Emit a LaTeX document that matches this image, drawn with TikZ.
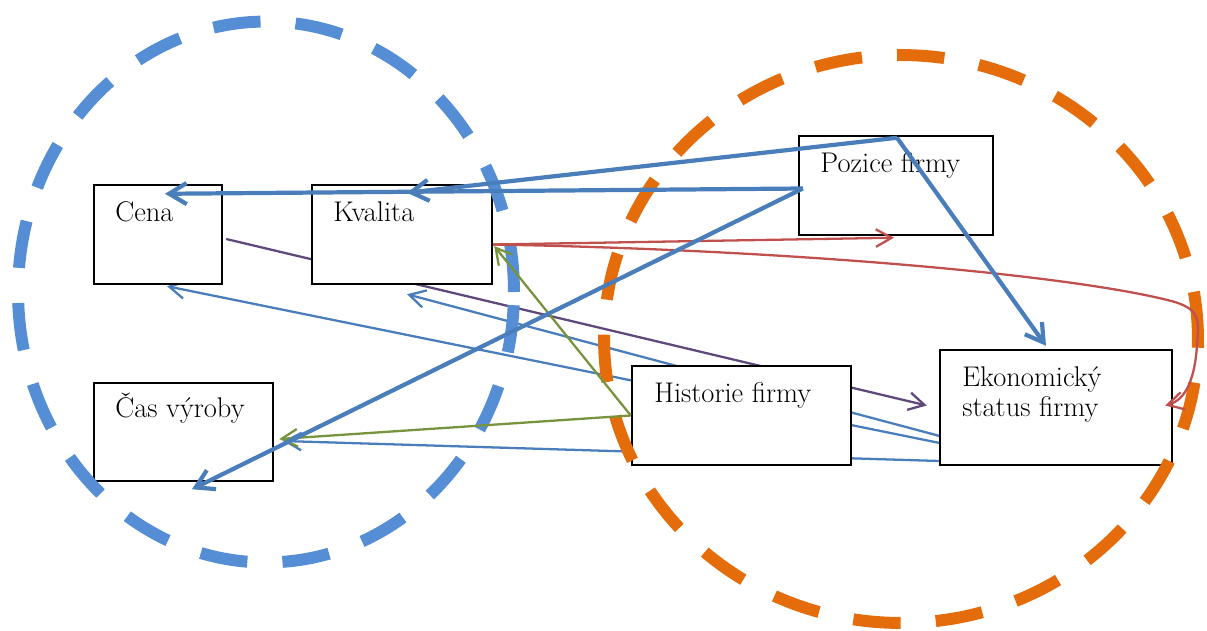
\documentclass[tikz,border=0pt]{standalone}
\usepackage{fontspec}
\usetikzlibrary{arrows.meta,fit,calc}
\pgfdeclarelayer{back}
\pgfdeclarelayer{rings}
\pgfdeclarelayer{front}
\pgfsetlayers{back,main,rings,front}
\definecolor{lineblue}{RGB}{74,126,187}
\definecolor{ringblue}{RGB}{85,142,213}
\definecolor{ringorange}{RGB}{228,108,10}
\definecolor{linegreen}{RGB}{119,147,60}
\definecolor{linepurple}{RGB}{95,73,122}
\definecolor{linered}{RGB}{192,80,77}
\begin{document}
\begin{tikzpicture}[x=0.02cm,y=-0.02cm,
  box/.style={draw=black, fill=white, line width=1.4pt, inner sep=0pt},
  lbl/.style={font=\fontsize{16.2}{19}\selectfont, inner sep=0pt, anchor=base west},
  ring/.style={line width=6.8pt, dash pattern=on 27pt off 20pt},
  heavy/.style={draw=lineblue, line width=2.4pt, -{Straight Barb[length=10pt,width=12pt]}},
  light/.style={line width=1.3pt, -{Straight Barb[length=9pt,width=10pt]}}]
\useasboundingbox (0,0) rectangle (1207,630);

% boxes
\node[box, fit={(94,185) (222,284)}] (cena) {};
\node[box, fit={(312,185) (492,284)}] (kval) {};
\node[box, fit={(799,136) (993,235)}] (poz) {};
\node[box, fit={(94,383) (273,481)}] (cas) {};
\node[box, fit={(632,366) (851,465)}] (hist) {};
\node[box, fit={(940,350) (1172,465)}] (eko) {};

% box texts
\node[lbl] (tcena) at (115,221) {Cena};
\node[lbl] (tkval) at (333,221) {Kvalita};
\node[lbl] (tpoz) at (820,172) {Pozice firmy};
\node[lbl] (tcas) at (115,417) {Čas výroby};
\node[lbl] (thist) at (654,402) {Historie firmy};
\node[lbl] (teko1) at (962,386) {Ekonomický};
\node[lbl] (teko2) at (962,416) {status firmy};

% connector end points
\coordinate (pozTop) at ($(poz.north)+(1,3)$);
\coordinate (pozW) at ($(poz.west)+(5,3)$);
\coordinate (pozS) at ($(poz.south)+(-2,1.5)$);
\coordinate (kvalN) at ($(kval.north)+(5,9)$);
\coordinate (kvalS) at ($(kval.south)+(5,9)$);
\coordinate (kvalE) at ($(kval.east)+(1,11.5)$);
\coordinate (kvalR) at ($(kval.east)+(0,10)$);
\coordinate (cenaN) at ($(cena.north)+(7,10)$);
\coordinate (cenaS) at ($(cena.south)+(9,1)$);
\coordinate (cenaE) at ($(cena.east)+(3,4.5)$);
\coordinate (casS) at ($(cas.south)+(8.5,7)$);
\coordinate (casE) at ($(cas.east)+(9,9)$);
\coordinate (casG) at ($(cas.east)+(5,7)$);
\coordinate (ekoN) at ($(eko.north)+(-10,-3)$);
\coordinate (ekoW1) at ($(eko.west)+(1,35.5)$);
\coordinate (ekoW2) at ($(eko.west)+(1,28.5)$);
\coordinate (ekoW3) at ($(eko.west)+(1,53.5)$);
\coordinate (ekoP) at ($(eko.west)+(-12,-2)$);
\coordinate (ekoE) at ($(eko.east)+(-8,-2)$);

% rings
\begin{pgfonlayer}{rings}
\draw[ring, ringblue] (266,292) ellipse [x radius=4.96cm, y radius=5.41cm];
\draw[ring, ringorange] (901,339) ellipse [x radius=5.94cm, y radius=5.68cm];
\end{pgfonlayer}

% connectors passing behind the boxes
\begin{pgfonlayer}{back}
\draw[light, linepurple] (cenaE) -- (ekoP);
\draw[light, lineblue] (ekoW1) -- (cenaS);
\draw[light, lineblue] (ekoW2) -- (kvalS);
\draw[light, lineblue] (ekoW3) -- (casE);
\end{pgfonlayer}

% connectors on top
\begin{pgfonlayer}{front}
\draw[light, linegreen] (hist.west) -- (kvalE);
\draw[light, linegreen] (hist.west) -- (casG);
\draw[light, linered] (kvalR) -- (pozS);
\draw[light, linered] (kvalR) .. controls (800,250) and (1080,276) .. (1175,302)
  .. controls (1200,310) and (1199,320) .. (1197,345)
  .. controls (1195,378) and (1186,400) .. (ekoE);
\draw[heavy] (pozTop) -- (kvalN);
\draw[heavy] (pozTop) -- (ekoN);
\draw[heavy] (pozW) -- (cenaN);
\draw[heavy] (pozW) -- (casS);
\end{pgfonlayer}
\end{tikzpicture}
\end{document}
